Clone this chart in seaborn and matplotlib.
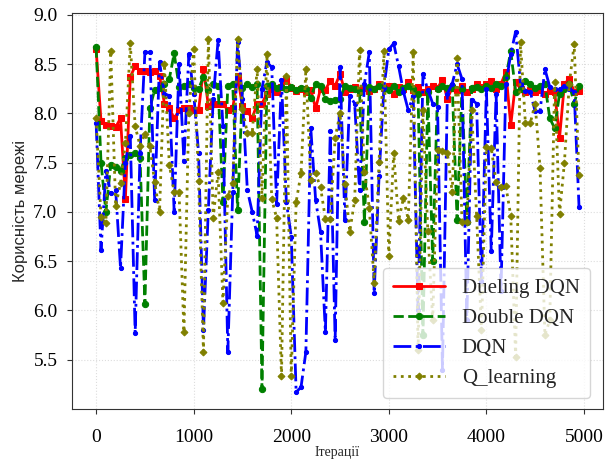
import numpy as np
import pandas as pd
import matplotlib
matplotlib.use('Agg')
import matplotlib.pyplot as plt
import seaborn as sns

# iterations (every 50 steps)
iterations = list(range(0, 5000, 50))

dueling_dqn = [
    8.65, 7.92, 7.88, 7.87, 7.86, 7.95, 7.13, 8.37, 8.48, 8.43,
    8.43, 8.42, 8.43, 8.38, 8.10, 8.05, 7.95, 8.03, 8.05, 8.05,
    8.03, 8.03, 8.45, 8.08, 8.10, 8.10, 8.10, 8.03, 8.05, 8.38,
    8.07, 8.02, 7.95, 8.10, 8.10, 8.20, 8.25, 8.22, 8.27, 8.35,
    8.26, 8.23, 8.25, 8.22, 8.24, 8.05, 8.25, 8.24, 8.33, 8.28,
    8.40, 8.22, 8.25, 8.27, 8.24, 8.26, 8.23, 8.25, 8.30, 8.26,
    8.28, 8.20, 8.27, 8.25, 8.32, 8.24, 8.27, 8.22, 8.25, 8.28,
    8.26, 8.34, 8.15, 8.26, 8.24, 8.28, 8.22, 8.25, 8.30, 8.27,
    8.30, 8.33, 8.25, 8.30, 8.42, 7.88, 8.32, 8.25, 8.22, 8.24,
    8.22, 8.24, 8.20, 8.23, 8.22, 7.75, 8.30, 8.35, 8.22, 8.23,
]

double_dqn = [
    8.67, 7.50, 7.00, 7.48, 7.46, 7.42, 7.55, 7.58, 7.60, 7.55,
    6.06, 8.05, 8.24, 8.26, 8.30, 8.35, 8.61, 8.27, 8.28, 8.30,
    8.26, 8.25, 8.37, 8.24, 8.30, 8.28, 7.10, 8.28, 8.30, 7.02,
    8.26, 8.30, 8.27, 8.30, 5.20, 8.28, 8.30, 8.26, 8.27, 8.25,
    8.27, 8.24, 8.26, 8.25, 8.16, 8.30, 8.28, 8.15, 8.13, 8.14,
    8.15, 8.28, 8.26, 8.25, 8.22, 6.90, 8.27, 8.25, 8.28, 8.26,
    8.24, 8.28, 8.22, 8.26, 8.28, 8.25, 8.20, 5.75, 8.22, 6.50,
    8.25, 8.28, 8.26, 8.28, 6.92, 8.25, 6.90, 8.26, 8.27, 8.25,
    8.28, 8.26, 8.30, 8.28, 8.37, 8.63, 8.22, 8.25, 8.33, 8.30,
    8.26, 8.28, 8.30, 7.95, 7.85, 8.20, 8.25, 8.30, 8.10, 8.28,
]

dqn = [
    7.90, 6.61, 7.42, 7.19, 7.22, 6.43, 7.50, 7.77, 5.77, 7.60,
    8.62, 8.62, 7.12, 8.52, 8.20, 8.18, 7.00, 8.50, 7.52, 8.60,
    8.20, 7.60, 5.80, 7.02, 8.15, 8.74, 7.87, 5.58, 7.20, 8.72,
    8.15, 7.22, 7.00, 6.76, 8.25, 8.52, 8.47, 7.08, 8.34, 7.10,
    6.75, 5.17, 5.22, 5.58, 7.85, 7.12, 6.80, 5.78, 7.82, 5.70,
    8.47, 6.92, 8.18, 8.10, 7.22, 8.30, 8.62, 6.18, 7.36, 8.26,
    8.65, 8.71, 8.48, 8.22, 8.03, 8.18, 6.00, 8.40, 8.24, 8.10,
    8.06, 5.40, 8.20, 8.30, 8.50, 8.35, 5.90, 8.14, 8.10, 6.30,
    8.25, 6.60, 8.20, 6.20, 8.30, 8.60, 8.83, 8.30, 8.23, 8.22,
    8.02, 8.02, 8.45, 8.27, 8.25, 8.25, 8.28, 8.25, 8.22, 7.05,
]

q_learning = [
    7.95, 6.95, 6.89, 8.63, 7.06, 7.29, 7.70, 8.71, 7.87, 7.67,
    7.79, 7.67, 7.30, 7.00, 8.50, 7.48, 7.20, 7.20, 5.78, 8.00,
    8.65, 7.31, 5.58, 8.76, 6.94, 7.40, 6.08, 7.16, 7.29, 8.76,
    8.04, 7.80, 7.80, 8.45, 7.14, 8.60, 7.13, 6.94, 5.33, 8.38,
    5.33, 7.10, 7.39, 8.45, 7.32, 7.39, 7.25, 6.93, 6.93, 7.75,
    8.00, 7.28, 6.80, 7.12, 8.64, 7.40, 7.04, 6.28, 7.51, 8.63,
    6.55, 7.60, 6.91, 7.14, 6.92, 8.62, 5.60, 8.03, 6.81, 5.90,
    7.63, 7.62, 7.60, 7.20, 8.56, 6.90, 6.90, 8.03, 6.96, 5.80,
    7.66, 7.65, 7.30, 7.25, 7.26, 6.96, 5.53, 8.72, 7.90, 7.90,
    8.10, 7.45, 5.75, 5.90, 8.32, 6.98, 7.50, 8.30, 8.70, 7.37,
]

sns.set_style('ticks', {'axes.grid': True, 'grid.color': '#dddddd', 'grid.linestyle': ':'})
plt.rcParams['font.family'] = ['Liberation Serif', 'DejaVu Serif']

fig = plt.figure(figsize=(6.05, 4.61), dpi=100)
ax = fig.add_axes([0.119, 0.113, 0.878, 0.859])

series = [
    ('Dueling DQN', dueling_dqn, 'red', '-', 's', 4),
    ('Double DQN', double_dqn, 'green', '--', 'o', 4.5),
    ('DQN', dqn, 'blue', '-.', '.', 6),
    ('Q_learning', q_learning, 'olive', ':', 'D', 3.5),
]
for name, vals, color, ls, mk, ms in series:
    df = pd.DataFrame({'x': iterations, 'y': vals})
    sns.lineplot(data=df, x='x', y='y', ax=ax, color=color, linestyle=ls,
                 marker=mk, markersize=ms, markeredgecolor=color,
                 linewidth=2, label=name)

ax.set_ylim(5.0, 9.02)
ax.set_yticks([5.5, 6.0, 6.5, 7.0, 7.5, 8.0, 8.5, 9.0])
ax.set_xticks([0, 1000, 2000, 3000, 4000, 5000])
ax.tick_params(axis='both', labelsize=14, colors='#333333', labelcolor='black')
ax.tick_params(axis='x', pad=11)
ax.tick_params(axis='y', pad=7)
ax.set_xlabel('Ітерації', fontsize=10, labelpad=0)
ax.set_ylabel('Корисність мережі', fontsize=12, family=['Liberation Sans', 'DejaVu Sans'],
              labelpad=4)
for s in ax.spines.values():
    s.set_color('#333333')

ax.legend(loc='lower right', fontsize=15, frameon=True, framealpha=0.8,
          handlelength=2.5, borderpad=0.5, labelspacing=0.5,
          bbox_to_anchor=(0.995, 0.0))

fig.savefig('out.png', dpi=100)
